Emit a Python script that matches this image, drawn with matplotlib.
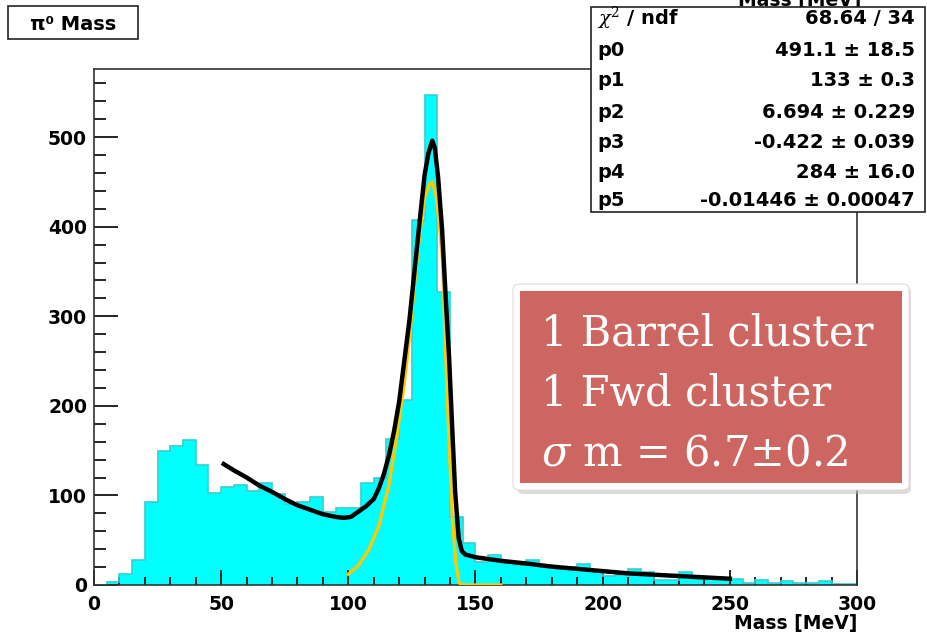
import numpy as np
import matplotlib.pyplot as plt
from matplotlib.patches import Rectangle, FancyBboxPatch
from matplotlib.ticker import MultipleLocator

# histogram: 5 MeV bins from 0 to 300
bin_edges = np.arange(0, 305, 5)
counts = [0, 3, 12, 28, 93, 150, 155, 162, 134, 103,
          109, 112, 105, 114, 102, 90, 93, 98, 82, 86,
          86, 114, 119, 163, 207, 407, 547, 327, 76, 47,
          26, 34, 25, 22, 28, 22, 20, 20, 23, 17,
          10, 11, 18, 14, 6, 6, 14, 7, 7, 7,
          7, 2.5, 5.5, 2.5, 4, 2.5, 2.5, 4, 1, 1]

# total fit (black)
fit_x = [51, 55, 60, 65, 70, 75, 80, 85, 90, 95, 98, 101, 104, 107, 110, 112, 114, 116,
         118, 120, 122, 124, 126, 128, 130, 131.5, 133, 134, 135.3, 136.9, 138.3, 139.6,
         140.8, 142, 143.4, 144.6, 146, 150, 155, 160, 170, 180, 190, 200, 210, 220, 230,
         240, 250]
fit_y = [135, 128, 120, 111, 104, 96, 89, 84, 79, 76, 75, 76, 82, 88, 96, 108, 124, 145,
         172, 205, 250, 295, 350, 405, 458, 482, 496, 488, 455, 395, 320, 255,
         178, 104, 52, 38, 34, 31, 29, 27, 24, 20.5, 18, 15.5, 13, 11.5, 10,
         8.5, 7]

# signal part of the fit (yellow)
sig_x = [100, 104, 108, 112, 116, 119, 122, 124, 126, 128, 130, 132, 133, 134.5, 136,
         137, 138.2, 139.6, 140.9, 142.2, 143.5, 144.5, 160]
sig_y = [12, 22, 39, 66, 112, 165, 225, 275, 335, 390, 432, 448, 450, 435, 395,
         365, 262, 160, 76, 26, 3, 0, 0]

stat_names = [r'$\chi^2$ / ndf', 'p0', 'p1', 'p2', 'p3', 'p4', 'p5']
stat_values = ['68.64 / 34', '491.1 ± 18.5', '133 ± 0.3', '6.694 ± 0.229',
               '-0.422 ± 0.039', '284 ± 16.0', '-0.01446 ± 0.00047']

note_lines = ['1 Barrel cluster', '1 Fwd cluster', r'$\sigma$ m = 6.7±0.2']

plt.rcParams['font.family'] = ['DejaVu Sans']
plt.rcParams['mathtext.fontset'] = 'dejavuserif'

W, H = 928, 639
fig = plt.figure(figsize=(W / 100, H / 100), dpi=100)


def fx(x):
    return x / W


def fy(y):
    return 1 - y / H


ax = fig.add_axes([fx(94), fy(585), fx(857) - fx(94), fy(69) - fy(585)])
ax.stairs(counts, bin_edges, fill=True, color='#00ffff', zorder=1)
ax.stairs(counts, bin_edges, color='#35d0d0', lw=1.2, zorder=2)
ax.plot(fit_x, fit_y, color='black', lw=3.2, zorder=4)
ax.plot(sig_x, sig_y, color='#ffc800', lw=2.4, zorder=3)

ax.set_xlim(0, 300)
ax.set_ylim(0, 576)
ax.xaxis.set_major_locator(MultipleLocator(50))
ax.xaxis.set_minor_locator(MultipleLocator(10))
ax.yaxis.set_major_locator(MultipleLocator(100))
ax.yaxis.set_minor_locator(MultipleLocator(20))
ax.tick_params(axis='x', which='major', direction='in', length=11, width=1.2, pad=7)
ax.tick_params(axis='x', which='minor', direction='in', length=5.5, width=1.2)
ax.tick_params(axis='y', which='major', direction='in', length=17, width=1.2, pad=5)
ax.tick_params(axis='y', which='minor', direction='in', length=8.5, width=1.2)
for lab in ax.get_xticklabels() + ax.get_yticklabels():
    lab.set_fontsize(13.5)
    lab.set_fontweight('bold')
for sp in ax.spines.values():
    sp.set_linewidth(1.2)
    sp.set_color('#333333')

fig.text(fx(857), fy(624), 'Mass [MeV]', ha='right', va='center',
         fontsize=13.5, fontweight='bold')

# histogram title, mostly hidden behind the stats box
fig.text(fx(800), fy(6), 'Mass [MeV]', ha='center', va='baseline',
         fontsize=13.5, fontweight='bold')

# title box
fig.add_artist(Rectangle((fx(8), fy(39)), fx(138) - fx(8), fy(6) - fy(39),
                         transform=fig.transFigure, facecolor='white',
                         edgecolor='#222222', lw=1.2, zorder=5))
fig.text(fx(73), fy(24), 'π⁰ Mass', ha='center', va='center',
         fontsize=14, fontweight='bold', zorder=6)

# stats box
fig.add_artist(Rectangle((fx(591), fy(212)), fx(925) - fx(591), fy(7) - fy(212),
                         transform=fig.transFigure, facecolor='white',
                         edgecolor='#222222', lw=1.2, zorder=5))
row_y = [18, 50, 81, 112, 143, 172, 201]
for ry, name, val in zip(row_y, stat_names, stat_values):
    fig.text(fx(597), fy(ry), name, ha='left', va='center',
             fontsize=14, fontweight='bold', zorder=6)
    fig.text(fx(915), fy(ry), val, ha='right', va='center',
             fontsize=14, fontweight='bold', zorder=6)

# annotation box
fig.add_artist(FancyBboxPatch((fx(517), fy(494)), fx(911) - fx(517), fy(287) - fy(494),
                              boxstyle='round,pad=0,rounding_size=0.008',
                              transform=fig.transFigure, facecolor='#bbbbbb',
                              edgecolor='none', alpha=0.5, zorder=5))
fig.add_artist(FancyBboxPatch((fx(513), fy(490)), fx(909) - fx(513), fy(284) - fy(490),
                              boxstyle='round,pad=0,rounding_size=0.008',
                              transform=fig.transFigure, facecolor='white',
                              edgecolor='#dddddd', lw=0.8, zorder=6))
fig.add_artist(Rectangle((fx(520), fy(483)), fx(902) - fx(520), fy(291) - fy(483),
                         transform=fig.transFigure, facecolor='#cd6660',
                         edgecolor='none', zorder=7))
for i, line in enumerate(note_lines):
    fig.text(fx(541), fy(345 + 60 * i), line, ha='left', va='baseline',
             fontsize=30, color='white', family='DejaVu Serif', zorder=8)

fig.savefig('out.png', dpi=100)
